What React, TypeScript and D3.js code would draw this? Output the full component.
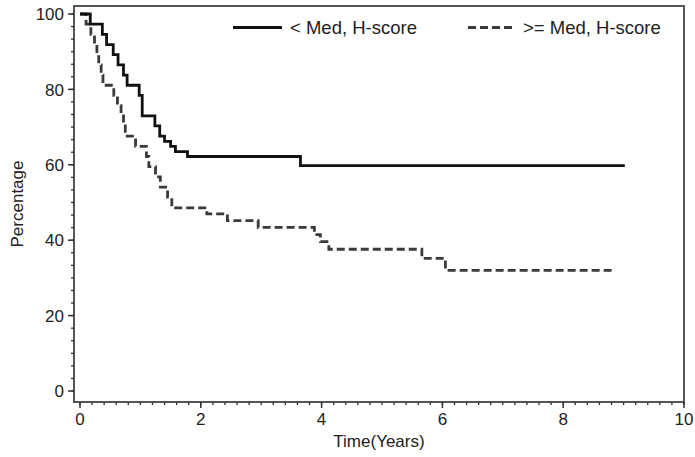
import React from 'react';
import * as d3 from 'd3';

// Kaplan-Meier steps
const belowTimes = [0, 0.17, 0.37, 0.44, 0.55, 0.63, 0.72, 0.78, 0.98, 1.03, 1.24, 1.32, 1.40, 1.50, 1.58, 1.78, 3.65];
const belowSurv = [100, 97.3, 94.6, 91.9, 89.2, 86.5, 83.8, 81.1, 78.4, 73.0, 70.3, 67.6, 66.2, 64.9, 63.5, 62.2, 59.8];
const belowEnd = 9.02;

const aboveTimes = [0, 0.10, 0.18, 0.24, 0.28, 0.31, 0.35, 0.38, 0.56, 0.62, 0.68, 0.72, 0.75, 0.92, 1.10, 1.14, 1.25, 1.33, 1.45, 1.52, 2.10, 2.44, 2.95, 3.88, 3.98, 4.12, 5.66, 6.05];
const aboveSurv = [100, 97.3, 94.6, 91.9, 89.2, 86.5, 83.8, 81.1, 78.4, 75.7, 73.0, 70.3, 67.6, 64.9, 62.2, 59.5, 56.8, 54.1, 51.4, 48.6, 47.0, 45.2, 43.4, 41.5, 39.6, 37.6, 35.2, 32.0];
const aboveEnd = 8.83;

const xTicks = [0, 2, 4, 6, 8, 10];
const yTicks = [0, 20, 40, 60, 80, 100];
const legendLabels = ['< Med, H-score', '>= Med, H-score'];

const width = 695;
const height = 457;
const font = '"Liberation Sans", Arial, Helvetica, sans-serif';

const App = () => {
    const x = d3.scaleLinear().domain([0, 10]).range([80, 684]);
    const y = d3.scaleLinear().domain([0, 100]).range([391, 14]);

    const frame = { left: x(0) - 6, right: x(10), top: y(100) - 8, bottom: y(0) + 11 };

    const line = d3.line<[number, number]>()
        .x(d => x(d[0]))
        .y(d => y(d[1]))
        .curve(d3.curveStepAfter);

    const toPts = (ts: number[], vs: number[], end: number): [number, number][] => {
        const p = ts.map((t, i) => [t, vs[i]] as [number, number]);
        p.push([end, vs[vs.length - 1]]);
        return p;
    };

    const xMinor = d3.range(0, 10.001, 0.2);
    const yMinor = d3.range(0, 100.001, 20 / 6);

    return (
        <svg width={width} height={height} style={{ position: 'absolute', left: 0, top: 0 }} fontFamily={font}>
            <rect x={0} y={0} width={width} height={height} fill="#fff" />

            <path d={line(toPts(aboveTimes, aboveSurv, aboveEnd)) || ''} fill="none" stroke="#3a3a3a" strokeWidth={2.8} strokeDasharray="8,4" />
            <path d={line(toPts(belowTimes, belowSurv, belowEnd)) || ''} fill="none" stroke="#111" strokeWidth={2.8} />

            <rect x={frame.left} y={frame.top} width={frame.right - frame.left} height={frame.bottom - frame.top}
                fill="none" stroke="#444" strokeWidth={1.8} />

            {/* y axis ticks */}
            {yMinor.map((v, i) => (
                <line key={'ym' + i} x1={frame.left} x2={frame.left - 3} y1={y(v)} y2={y(v)} stroke="#333" strokeWidth={1.3} />
            ))}
            {yTicks.map(v => (
                <g key={'y' + v}>
                    <line x1={frame.left} x2={frame.left - 6} y1={y(v)} y2={y(v)} stroke="#333" strokeWidth={1.5} />
                    <text x={frame.left - 10} y={y(v)} dy="0.36em" textAnchor="end" fontSize={17} fill="#222">{v}</text>
                </g>
            ))}

            {/* x axis ticks */}
            {xMinor.map((v, i) => (
                <line key={'xm' + i} x1={x(v)} x2={x(v)} y1={frame.bottom} y2={frame.bottom + 3} stroke="#333" strokeWidth={1.3} />
            ))}
            {xTicks.map(v => (
                <g key={'x' + v}>
                    <line x1={x(v)} x2={x(v)} y1={frame.bottom} y2={frame.bottom + 6} stroke="#333" strokeWidth={1.5} />
                    <text x={x(v)} y={425} textAnchor="middle" fontSize={17} fill="#222">{v}</text>
                </g>
            ))}

            <text x={(frame.left + frame.right) / 2} y={447} textAnchor="middle" fontSize={17} fill="#222">Time(Years)</text>
            <text transform={`translate(23,${(frame.top + frame.bottom) / 2}) rotate(-90)`} textAnchor="middle" fontSize={17} fill="#222">Percentage</text>

            {/* legend */}
            <line x1={233} x2={282} y1={27.5} y2={27.5} stroke="#111" strokeWidth={2.8} />
            <text x={290} y={27.5} dy="0.36em" fontSize={18.5} fill="#222">{legendLabels[0]}</text>
            <line x1={468} x2={516} y1={27.5} y2={27.5} stroke="#3a3a3a" strokeWidth={2.8} strokeDasharray="8,4" />
            <text x={523} y={27.5} dy="0.36em" fontSize={18.5} fill="#222">{legendLabels[1]}</text>
        </svg>
    );
};

export default App;
